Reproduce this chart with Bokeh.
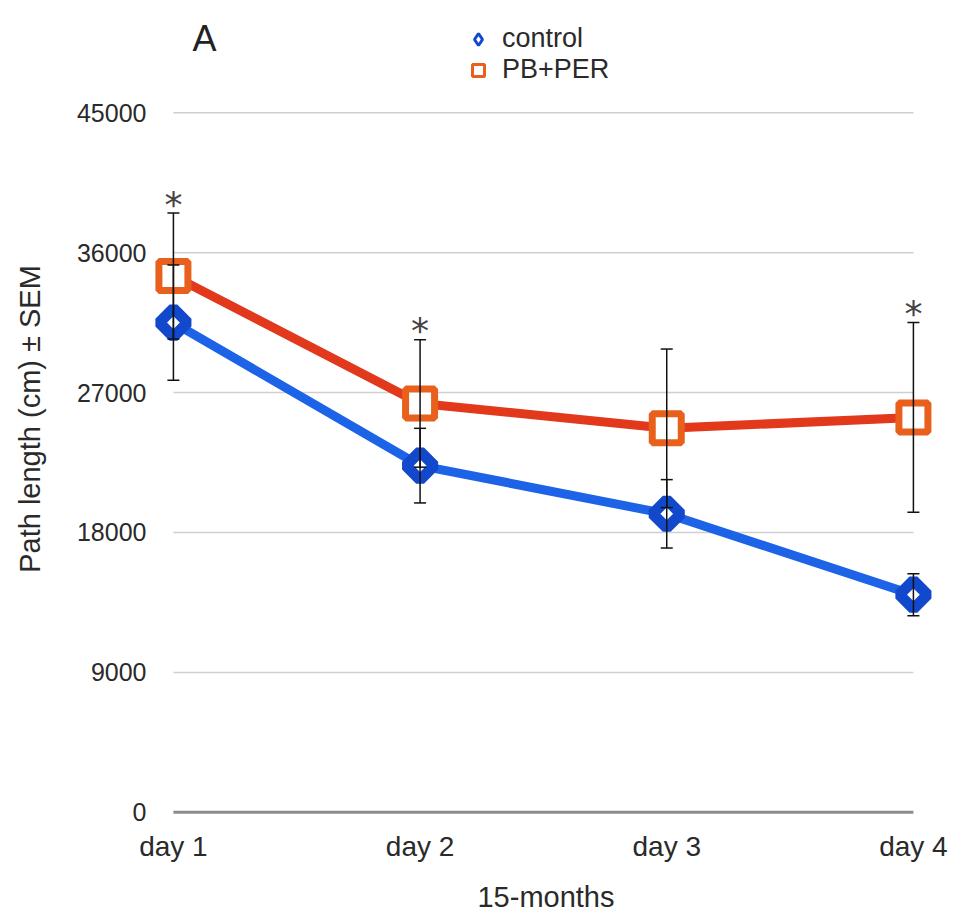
from bokeh.plotting import figure
from bokeh.models import (Range1d, FixedTicker, ColumnDataSource, Whisker, TeeHead,
                          Legend, LegendItem, Label)
from bokeh.core.properties import value
from bokeh.embed import file_html
from bokeh.resources import INLINE

# ---- data ----
days = ["day 1", "day 2", "day 3", "day 4"]
control = [31500, 22300, 19200, 14000]
control_sem = [3700, 2400, 2200, 1350]
pbper = [34500, 26300, 24700, 25400]
pbper_sem = [4050, 4100, 5100, 6100]
significant = [True, True, False, True]
yticks = [0, 9000, 18000, 27000, 36000, 45000]
x_label = "15-months"
y_label = "Path length (cm) \u00b1 SEM"
panel_label = "A"

FONT = "Liberation Sans"
xs = list(range(1, len(days) + 1))

p = figure(width=962, height=924, output_backend="svg", toolbar_location=None,
           x_range=Range1d(0.899, 4.122), y_range=Range1d(-400, 51000),
           min_border_left=148, min_border_right=19, min_border_top=19, min_border_bottom=106)
p.outline_line_color = None
p.xgrid.visible = False
p.ygrid.visible = False
p.background_fill_color = "white"
p.border_fill_color = "white"

# axes
p.xaxis.ticker = FixedTicker(ticks=xs)
p.xaxis.major_label_overrides = {x: d for x, d in zip(xs, days)}
p.yaxis.ticker = FixedTicker(ticks=yticks)
for ax in (p.xaxis[0], p.yaxis[0]):
    ax.axis_line_color = None
    ax.major_tick_line_color = None
    ax.minor_tick_line_color = None
    ax.major_tick_in = 0
    ax.major_tick_out = 0
    ax.major_label_text_font = FONT
    ax.major_label_text_color = "#2a2a2a"
    ax.axis_label_text_font = FONT
    ax.axis_label_text_font_style = "normal"
    ax.axis_label_text_color = "#2a2a2a"
p.yaxis.major_label_text_font_size = "25px"
p.yaxis.major_label_standoff = 2
p.yaxis.axis_label = y_label
p.yaxis.axis_label_text_font_size = "29px"
p.yaxis.axis_label_standoff = 28
p.xaxis.major_label_text_font_size = "28px"
p.xaxis.major_label_standoff = 12
p.xaxis.axis_label = x_label
p.xaxis.axis_label_text_font_size = "29px"
p.xaxis.axis_label_standoff = 16

# gridlines spanning day 1 .. day 4
grid_vals = [t for t in yticks if t > 0]
p.segment(x0=[xs[0]] * len(grid_vals), x1=[xs[-1]] * len(grid_vals), y0=grid_vals, y1=grid_vals,
          line_color="#cfcfcf", line_width=1.5)
p.segment(x0=[xs[0]], x1=[xs[-1]], y0=[yticks[0]], y1=[yticks[0]],
          line_color="#8c8c8c", line_width=3)

# lines
p.line(xs, pbper, line_color="#E2381C", line_width=9)
p.line(xs, control, line_color="#1C63E8", line_width=9)

# markers
r_ctrl = p.scatter(xs, control, marker="square", angle=0.785398, size=20,
                   line_color="#1148CC", line_width=11, fill_color="white")
r_pb = p.scatter(xs, pbper, marker="square", size=29,
                 line_color="#E8601C", line_width=7, fill_color="white")

# error bars
for vals, sems in ((control, control_sem), (pbper, pbper_sem)):
    src = ColumnDataSource(dict(x=xs,
                                upper=[v + s for v, s in zip(vals, sems)],
                                lower=[v - s for v, s in zip(vals, sems)]))
    w = Whisker(base="x", upper="upper", lower="lower", source=src, dimension="height",
                line_color="#111111", line_width=1.5, level="overlay",
                upper_head=TeeHead(size=12, line_color="#111111", line_width=1.5),
                lower_head=TeeHead(size=12, line_color="#111111", line_width=1.5))
    p.add_layout(w)

# significance asterisks
top = [max(c + cs, b + bs) for c, cs, b, bs in zip(control, control_sem, pbper, pbper_sem)]
sx = [x for x, s in zip(xs, significant) if s]
sy = [t for t, s in zip(top, significant) if s]
p.text(sx, sy, text=["*"] * len(sx), text_font=value("DejaVu Sans"), text_font_size="36px",
       text_color="#444444", text_align="center", text_baseline="alphabetic", y_offset=-9)

# legend (small markers; legend-only renderers hold no visible point)
nan = float("nan")
leg_ctrl = p.scatter([nan], [nan], marker="diamond", line_color="#1148CC",
                     line_width=3, fill_color="white")
leg_pb = p.scatter([nan], [nan], marker="square", line_color="#E8601C", line_width=3,
                   fill_color="white")
legend = Legend(items=[LegendItem(label="control", renderers=[leg_ctrl]),
                       LegendItem(label="PB+PER", renderers=[leg_pb])],
                location=(313, 733), orientation="vertical",
                label_text_font=FONT, label_text_font_size="27px", label_text_color="#2a2a2a",
                glyph_width=34, glyph_height=30, label_height=30, label_standoff=7,
                spacing=0, padding=0, margin=0, border_line_color=None,
                background_fill_alpha=0)
p.add_layout(legend)

p.add_layout(Label(x=44, y=780, x_units="screen", y_units="screen", text=panel_label,
                   text_font=FONT, text_font_size="36px", text_color="#222222",
                   text_baseline="alphabetic"))

open("out.html", "w").write(file_html(p, INLINE))
